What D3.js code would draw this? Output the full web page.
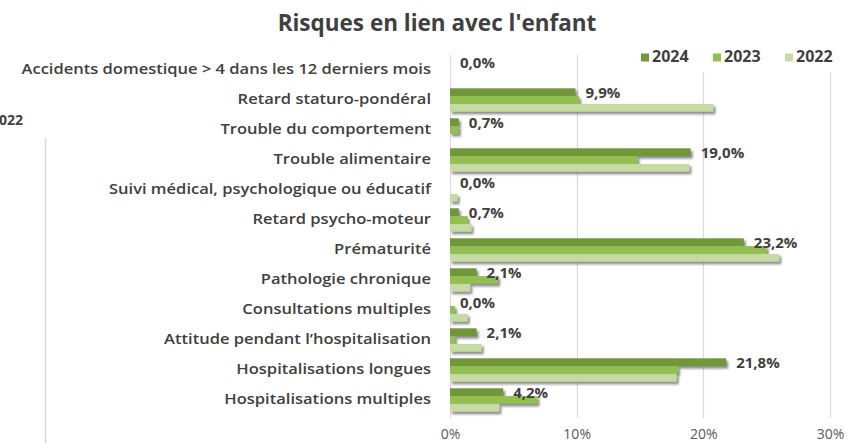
<!DOCTYPE html>
<html lang="fr">
<head>
<meta charset="utf-8">
<script src="https://cdn.jsdelivr.net/npm/d3@7"></script>
<style>
  html, body { margin: 0; padding: 0; background: #fff; }
  svg { display: block; }
  text { font-family: "Open Sans", "Noto Sans", sans-serif; }
</style>
</head>
<body>
<svg id="chart" width="847" height="443"></svg>
<script>
// Catégories de risque, de haut en bas
const categories = [
  "Accidents domestique > 4 dans les 12 derniers mois",
  "Retard staturo-pondéral",
  "Trouble du comportement",
  "Trouble alimentaire",
  "Suivi médical, psychologique ou éducatif",
  "Retard psycho-moteur",
  "Prématurité",
  "Pathologie chronique",
  "Consultations multiples",
  "Attitude pendant l’hospitalisation",
  "Hospitalisations longues",
  "Hospitalisations multiples"
];

// Pourcentages par année
const values2024 = [0.0, 9.9, 0.7, 19.0, 0.0, 0.7, 23.2, 2.1, 0.0, 2.1, 21.8, 4.2];
const values2023 = [0.0, 10.2, 0.7, 14.8, 0.0, 1.4, 25.0, 3.8, 0.4, 0.4, 18.0, 6.9];
const values2022 = [0.0, 20.8, 0.0, 18.9, 0.6, 1.7, 26.0, 1.6, 1.4, 2.5, 17.9, 3.9];

const seriesNames = ["2024", "2023", "2022"];
const tickValues = [0, 10, 20, 30];
const tickLabels = ["0%", "10%", "20%", "30%"];

const colors = { "2024": "#70983b", "2023": "#92bf4f", "2022": "#c5dba3" };

const series = [
  { name: "2024", values: values2024 },
  { name: "2023", values: values2023 },
  { name: "2022", values: values2022 }
];

const svg = d3.select("#chart");
const textColor = "#404040";

// Filtre d'ombre portée des barres
const defs = svg.append("defs");
const shadow = defs.append("filter").attr("id", "barShadow")
  .attr("x", "-10%").attr("y", "-50%").attr("width", "130%").attr("height", "250%");
shadow.append("feDropShadow")
  .attr("dx", 2).attr("dy", 2.5).attr("stdDeviation", 1.3)
  .attr("flood-color", "#666").attr("flood-opacity", 0.75);

// Échelles
const x = d3.scaleLinear().domain([0, 30]).range([450, 830]);
const y = d3.scaleBand().domain(categories).range([55, 415])
  .paddingInner(0.22).paddingOuter(0.11);
const ySub = d3.scaleBand().domain(seriesNames).range([0, y.bandwidth()]);

// Fragment d'un graphique voisin à gauche
svg.append("line")
  .attr("x1", 45.5).attr("x2", 45.5).attr("y1", 138).attr("y2", 443)
  .attr("stroke", "#d9d9d9").attr("stroke-width", 1.5);
svg.append("text")
  .attr("x", 23).attr("y", 121)
  .attr("text-anchor", "end").attr("dominant-baseline", "middle")
  .attr("font-size", 14).attr("font-weight", 700).attr("fill", textColor)
  .text("2022");

// Titre
svg.append("text")
  .attr("x", 437).attr("y", 31)
  .attr("text-anchor", "middle")
  .attr("font-size", 22.5).attr("font-weight", 700).attr("fill", textColor)
  .text("Risques en lien avec l'enfant");

// Quadrillage vertical
const grid = svg.append("g");
grid.selectAll("line").data(tickValues).join("line")
  .attr("x1", d => Math.round(x(d)) + 0.5).attr("x2", d => Math.round(x(d)) + 0.5)
  .attr("y1", 55).attr("y2", 418)
  .attr("stroke", "#d9d9d9").attr("stroke-width", 1.2);

// Axe des abscisses (libellés seuls)
const xAxis = d3.axisBottom(x).tickValues(tickValues)
  .tickFormat((d, i) => tickLabels[i]).tickSize(0).tickPadding(0);
const gx = svg.append("g").attr("transform", "translate(0,429)").call(xAxis);
gx.select(".domain").remove();
gx.selectAll("text")
  .attr("font-size", 14).attr("fill", "#595959")
  .attr("font-family", "'Open Sans', sans-serif");

// Barres
const groups = svg.append("g").selectAll("g").data(series).join("g")
  .attr("fill", d => colors[d.name])
  .attr("filter", "url(#barShadow)");
groups.selectAll("rect")
  .data(d => d.values.map((v, i) => ({ name: d.name, cat: categories[i], v })))
  .join("rect")
  .attr("x", x(0))
  .attr("y", d => y(d.cat) + ySub(d.name))
  .attr("width", d => x(d.v) - x(0))
  .attr("height", ySub.bandwidth())
  .attr("visibility", d => d.v > 0 ? "visible" : "hidden");

// Libellés des catégories (légèrement élargis, alignés à droite)
const yAxis = d3.axisLeft(y).tickSize(0).tickPadding(0);
const gy = svg.append("g").attr("transform", "translate(431,0)").call(yAxis);
gy.select(".domain").remove();
gy.selectAll("text")
  .attr("font-size", 14).attr("font-weight", 600).attr("fill", textColor)
  .attr("font-family", "'Open Sans', sans-serif")
  .attr("transform", "scale(1.18,1)");

// Étiquettes de valeur 2024
svg.append("g").selectAll("text")
  .data(values2024.map((v, i) => ({ v, cat: categories[i] })))
  .join("text")
  .attr("x", d => x(d.v) + 10)
  .attr("y", d => y(d.cat) + y.bandwidth() / 2 - 6)
  .attr("dominant-baseline", "middle")
  .attr("font-size", 15).attr("font-weight", 700).attr("fill", textColor)
  .text(d => d.v.toFixed(1).replace(".", ",") + "%");

// Légende (fond blanc masquant le quadrillage)
const legend = svg.append("g");
legend.append("rect")
  .attr("x", 612).attr("y", 44).attr("width", 230).attr("height", 28)
  .attr("fill", "#fff");
const legendX = [641, 713, 785];
seriesNames.forEach((name, i) => {
  legend.append("rect")
    .attr("x", legendX[i]).attr("y", 53.5).attr("width", 8).attr("height", 8)
    .attr("fill", colors[name]);
  legend.append("text")
    .attr("x", legendX[i] + 11).attr("y", 57.5)
    .attr("dominant-baseline", "middle")
    .attr("font-size", 16).attr("font-weight", 700).attr("fill", textColor)
    .text(name);
});
</script>
</body>
</html>
